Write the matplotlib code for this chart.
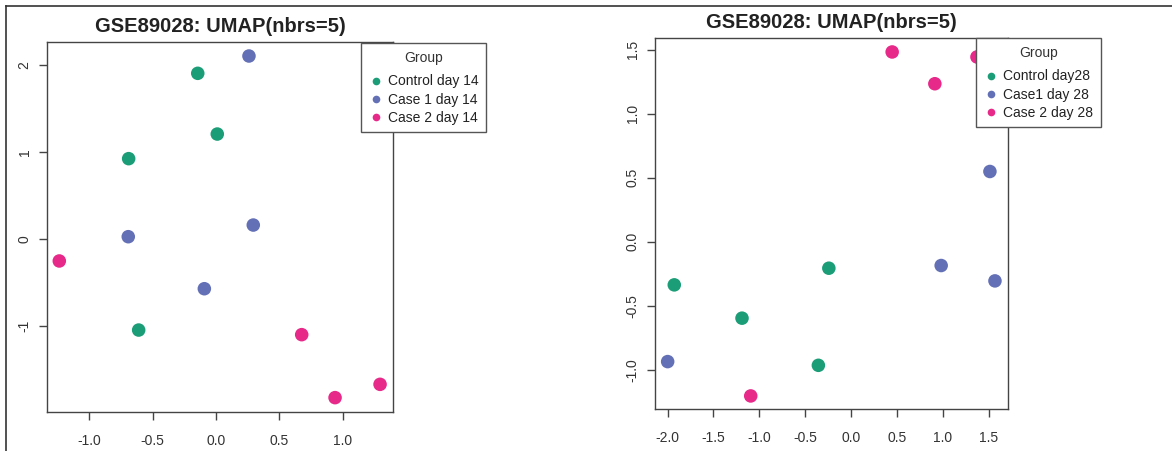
import matplotlib
matplotlib.use("Agg")
import matplotlib.pyplot as plt
from matplotlib.lines import Line2D

plt.rcParams['font.family'] = ['Liberation Sans', 'DejaVu Sans']

title = "GSE89028: UMAP(nbrs=5)"
colors = ["#1B9E77", "#6470B6", "#E7298A"]

# Left panel: day 14
groups14 = ["Control day 14", "Case 1 day 14", "Case 2 day 14"]
ctrl14_x = [-0.144, 0.010, -0.689, -0.610]
ctrl14_y = [1.908, 1.210, 0.927, -1.043]
case1_14_x = [0.260, 0.294, -0.692, -0.092]
case1_14_y = [2.107, 0.164, 0.030, -0.568]
case2_14_x = [-1.236, 0.676, 0.939, 1.294]
case2_14_y = [-0.249, -1.096, -1.820, -1.667]

# Right panel: day 28
groups28 = ["Control day28", "Case1 day 28", "Case 2 day 28"]
ctrl28_x = [-1.927, -0.243, -1.189, -0.357]
ctrl28_y = [-0.336, -0.206, -0.596, -0.964]
case1_28_x = [1.512, 0.981, 1.567, -1.999]
case1_28_y = [0.549, -0.185, -0.305, -0.935]
case2_28_x = [0.447, 0.912, 1.371, -1.094]
case2_28_y = [1.482, 1.234, 1.443, -1.203]

W, H = 1172, 451
fig = plt.figure(figsize=(W / 100, H / 100), dpi=100)

def px_axes(l, r, t, b):
    return fig.add_axes([l / W, 1 - b / H, (r - l) / W, (b - t) / H])

ax1 = px_axes(47, 393, 42, 412)
ax2 = px_axes(655, 1008, 38, 409)

def style(ax, xlim, ylim, xticks, yticks, xlabels, ylabels):
    ax.set_xlim(*xlim)
    ax.set_ylim(*ylim)
    ax.set_xticks(xticks)
    ax.set_xticklabels(xlabels)
    ax.set_yticks(yticks)
    ax.set_yticklabels(ylabels, rotation=90, va='center')
    for s in ax.spines.values():
        s.set_color("#444444")
        s.set_linewidth(1.0)
    ax.tick_params(direction='out', length=6, width=1.0, colors="#444444",
                   labelcolor="#333333", labelsize=10)
    ax.tick_params(axis='x', pad=10)
    ax.tick_params(axis='y', pad=5)
    ax.set_title(title, fontsize=14.5, fontweight='bold', color="#222222", pad=7)

data14 = [(ctrl14_x, ctrl14_y), (case1_14_x, case1_14_y), (case2_14_x, case2_14_y)]
data28 = [(ctrl28_x, ctrl28_y), (case1_28_x, case1_28_y), (case2_28_x, case2_28_y)]

for (xs, ys), c in zip(data14, colors):
    ax1.scatter(xs, ys, s=95, color=c, edgecolors='none', zorder=3)
for (xs, ys), c in zip(data28, colors):
    ax2.scatter(xs, ys, s=95, color=c, edgecolors='none', zorder=3)

style(ax1, (-1.333, 1.396), (-1.985, 2.268),
      [-1.0, -0.5, 0.0, 0.5, 1.0], [-1, 0, 1, 2],
      ["-1.0", "-0.5", "0.0", "0.5", "1.0"], ["-1", "0", "1", "2"])
style(ax2, (-2.137, 1.709), (-1.305, 1.591),
      [-2.0, -1.5, -1.0, -0.5, 0.0, 0.5, 1.0, 1.5], [-1.0, -0.5, 0.0, 0.5, 1.0, 1.5],
      ["-2.0", "-1.5", "-1.0", "-0.5", "0.0", "0.5", "1.0", "1.5"],
      ["-1.0", "-0.5", "0.0", "0.5", "1.0", "1.5"])

def make_legend(labels, x, y):
    handles = [Line2D([], [], marker='o', linestyle='none', markersize=5.5,
                      markerfacecolor=c, markeredgecolor='none') for c in colors]
    leg = fig.legend(handles, labels, title="Group", loc='upper left',
                     bbox_to_anchor=(x / W, 1 - y / H), fontsize=10,
                     title_fontsize=10, frameon=True, fancybox=False,
                     borderpad=0.55, handletextpad=0.4, handlelength=1.0,
                     labelspacing=0.3, borderaxespad=0)
    leg._legend_box.sep = 7.0
    fr = leg.get_frame()
    fr.set_edgecolor("#555555")
    fr.set_linewidth(1.0)
    fr.set_facecolor("white")
    fr.set_alpha(1)
    for t in leg.get_texts():
        t.set_color("#222222")
    leg.get_title().set_color("#333333")
    leg.set_zorder(10)
    return leg

make_legend(groups14, 361, 43)
make_legend(groups28, 976, 38)

# outer frame lines (top and left)
fig.add_artist(Line2D([6 / W, 1], [1 - 6 / H, 1 - 6 / H], transform=fig.transFigure,
                      color="#333333", linewidth=1.2))
fig.add_artist(Line2D([6 / W, 6 / W], [0, 1 - 6 / H], transform=fig.transFigure,
                      color="#333333", linewidth=1.2))

fig.savefig("out.png", dpi=100)
